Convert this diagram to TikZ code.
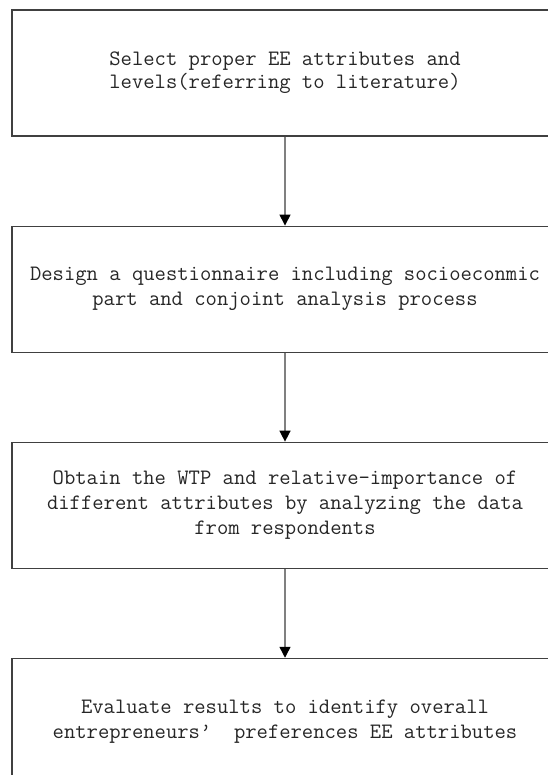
\documentclass[tikz,border=0pt]{standalone}
\usepackage{fontspec}
\usepackage{tikz}
\usetikzlibrary{
	positioning,
	arrows.meta
}

\tikzset{
	stepbox/.style={rectangle,draw=black!75,line width=1.1pt,
		minimum width=546pt,minimum height=126pt,align=center,
		font=\fontsize{22}{25}\selectfont\ttfamily,text=black!85},
	flow/.style={draw=black!50,line width=1.4pt,
		-{Triangle[width=11pt,length=11pt,color=black]}}
}

\begin{document}
\begin{tikzpicture}
		\useasboundingbox (0pt,0pt) rectangle (547pt,-775pt);
		\draw
			node[stepbox] (s1) at (285pt,-73pt)
				{Select proper EE attributes and\\[-2pt]levels(referring to literature)}
			node[stepbox,below=89pt of s1] (s2)
				{Design a questionnaire including socioeconmic\\part and conjoint analysis process}
			node[stepbox,below=89pt of s2] (s3)
				{Obtain the WTP and relative-importance of\\different attributes by analyzing the data\\from respondents}
			node[stepbox,below=89pt of s3] (s4)
				{Evaluate results to identify overall\\entrepreneurs’\ \ preferences EE attributes}
		;
		\draw[flow] (s1) -- (s2);
		\draw[flow] (s2) -- (s3);
		\draw[flow] (s3) -- (s4);
	\end{tikzpicture}
\end{document}
